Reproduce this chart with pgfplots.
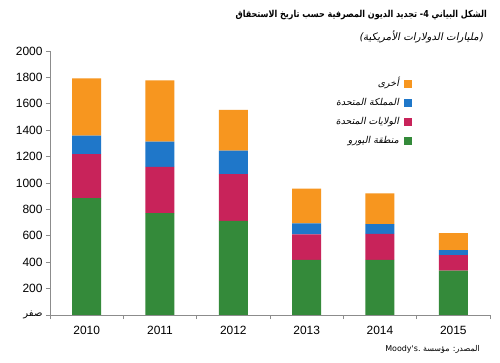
\documentclass[border=0pt]{standalone}
\usepackage{pgfplots}
\pgfplotsset{compat=1.18}
\usepackage{fontspec}
\setmainfont{Liberation Sans}
\newfontfamily\arabicfont[Script=Arabic]{DejaVu Sans}
\newfontfamily\arabictitle[Script=Arabic,FakeStretch=0.84]{DejaVu Sans}
\newfontfamily\arabicit[Script=Arabic,FakeSlant=0.2]{DejaVu Sans}
\TeXXeTstate=1
\definecolor{cgreen}{HTML}{348A3A}
\definecolor{cred}{HTML}{C8235A}
\definecolor{cblue}{HTML}{1F77C9}
\definecolor{corange}{HTML}{F7961F}
\definecolor{axgray}{HTML}{8C8C8C}
\begin{document}
\begin{tikzpicture}
\useasboundingbox (0,0) rectangle (500bp,363bp);
\fill[white] (0,0) rectangle (500bp,363bp);
\begin{axis}[
  at={(50bp,48bp)}, anchor=south west,
  scale only axis, width=440bp, height=264bp,
  ybar stacked, bar width=29bp,
  xmin=-0.5, xmax=5.5, ymin=0, ymax=2000,
  axis x line*=bottom, axis y line*=left,
  axis line style={draw=axgray, line width=0.9pt},
  xtick={-0.5,0.5,1.5,2.5,3.5,4.5,5.5},
  x tick label as interval,
  xticklabels={2010,2011,2012,2013,2014,2015},
  xticklabel style={yshift=-4bp},
  ytick={0,200,...,2000},
  yticklabels={{\arabicfont\fontsize{10}{10}\selectfont\beginR صفر\endR},200,400,600,800,1000,1200,1400,1600,1800,2000},
  tick style={draw=axgray, line width=0.9pt},
  tick align=outside, major tick length=4bp,
  ticklabel style={font=\fontsize{12}{12}\selectfont},
  /pgf/number format/assume math mode=true,
  every axis plot/.append style={draw=none},
  reverse legend,
  legend plot pos=right,
  legend cell align=right,
  legend image code/.code={\fill[#1] (0bp,-4bp) rectangle (8bp,4bp);},
  legend style={at={(0.823,0.898)}, anchor=north east, draw=none, fill=none,
    inner sep=0pt, row sep=8bp,
    /tikz/every odd column/.append style={column sep=4bp},
    nodes={inner sep=1pt, text height=7bp, text depth=2bp, font=\arabicit\fontsize{9.5}{9.5}\selectfont}},
]
\addplot[fill=cgreen] coordinates {(0,885) (1,772) (2,714) (3,418) (4,418) (5,337)};
\addlegendentry{\beginR منطقة اليورو\endR}
\addplot[fill=cred] coordinates {(0,333) (1,350) (2,354) (3,192) (4,197) (5,116)};
\addlegendentry{\beginR الولايات المتحدة\endR}
\addplot[fill=cblue] coordinates {(0,141) (1,192) (2,178) (3,84) (4,74) (5,38)};
\addlegendentry{\beginR المملكة المتحدة\endR}
\addplot[fill=corange] coordinates {(0,433) (1,463) (2,308) (3,263) (4,233) (5,129)};
\addlegendentry{\beginR أخرى\endR}
\end{axis}
\node[anchor=east, inner sep=0pt, font=\arabictitle\bfseries\fontsize{9.6}{9.6}\selectfont] at (487bp,348bp) {\beginR الشكل البياني 4-  تجديد الديون المصرفية حسب تاريخ الاستحقاق\endR};
\node[anchor=east, inner sep=0pt, font=\arabicit\fontsize{10.3}{10.3}\selectfont] at (483bp,326bp) {\beginR(مليارات الدولارات الأمريكية)\endR};
\node[anchor=east, inner sep=0pt, font=\arabicfont\fontsize{8}{8}\selectfont] at (480bp,14bp) {\beginR المصدر: مؤسسة \beginL Moody's.\endL\endR};
\end{tikzpicture}
\end{document}
